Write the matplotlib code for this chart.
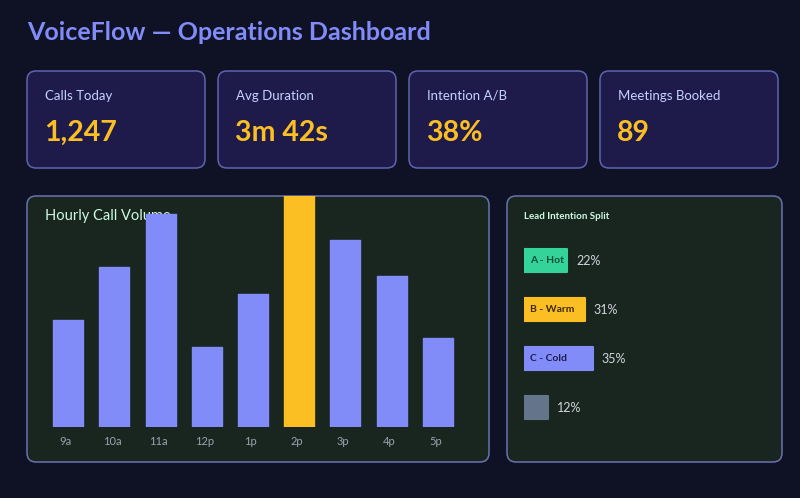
import numpy as np
import matplotlib
matplotlib.use("Agg")
import matplotlib.pyplot as plt
from matplotlib.patches import FancyBboxPatch

plt.rcParams['font.family'] = ['Lato', 'DejaVu Sans']

# data
kpi_labels = ["Calls Today", "Avg Duration", "Intention A/B", "Meetings Booked"]
kpi_values = ["1,247", "3m 42s", "38%", "89"]

hours = ["9a", "10a", "11a", "12p", "1p", "2p", "3p", "4p", "5p"]
calls = [80, 120, 160, 60, 100, 185, 140, 113, 67]
peak_hour = "2p"

lead_labels = ["A - Hot", "B - Warm", "C - Cold", ""]
lead_pct = [22, 31, 35, 12]
lead_colors = ["#34d399", "#fbbf24", "#818cf8", "#64748b"]
lead_text = ["#064e3b", "#3b2a05", "#1e1b4b", "#1e1b4b"]

BG = "#0f1124"
CARD = "#1e1b4b"
CARD_EDGE = "#5f64b0"
PANEL = "#18261f"
PANEL_EDGE = "#6a72b0"

W, H = 800, 498
fig = plt.figure(figsize=(W / 100, H / 100), dpi=100)
fig.patch.set_facecolor(BG)


def rect(x0, y0, x1, y1):
    # pixel box (top-left origin) -> figure fraction
    return [x0 / W, 1 - y1 / H, (x1 - x0) / W, (y1 - y0) / H]


def box(x0, y0, x1, y1, face, edge, r=9):
    p = FancyBboxPatch((x0 / W, 1 - y1 / H), (x1 - x0) / W, (y1 - y0) / H,
                       boxstyle=f"round,pad=0,rounding_size={r / W}",
                       transform=fig.transFigure, facecolor=face,
                       edgecolor=edge, linewidth=1.1, zorder=0,
                       mutation_aspect=W / H)
    fig.patches.append(p)


fig.text(27 / W, 1 - 32 / H, "VoiceFlow — Operations Dashboard",
         color="#818cf8", fontsize=18, fontweight="bold", va="center")

# kpi cards
card_x = [27, 218, 409, 600]
for cx, lab, val in zip(card_x, kpi_labels, kpi_values):
    box(cx, 71, cx + 178, 168, CARD, CARD_EDGE)
    fig.text((cx + 18) / W, 1 - 96 / H, lab, color="#c7d2fe",
             fontsize=9.5, va="center")
    fig.text((cx + 17) / W, 1 - 133 / H, val, color="#fbbf24",
             fontsize=20.5, fontweight="bold", va="center")

# panels
box(27, 196, 489, 462, PANEL, PANEL_EDGE)
box(507, 196, 782, 462, PANEL, PANEL_EDGE)

fig.text(45 / W, 1 - 216 / H, "Hourly Call Volume", color="#d1fae5",
         fontsize=10.5, va="center", zorder=1)

# hourly bars
ax = fig.add_axes(rect(45, 196, 461, 427))
ax.set_zorder(2)
ax.patch.set_alpha(0)
x = np.arange(len(hours))
cols = ["#fbbf24" if h == peak_hour else "#818cf8" for h in hours]
ax.bar(x, calls, width=0.65, color=cols, edgecolor=cols, linewidth=1,
       joinstyle="round")
ax.set_xlim(-0.5, len(hours) - 0.5)
ax.set_ylim(0, 231 / 1.333)
for xi, h in zip(x, hours):
    ax.text(xi - 0.05, -14 / 1.333, h, color="#9ca3af", fontsize=8,
            ha="center", va="center")
ax.axis("off")

# lead intention split
fig.text(524 / W, 1 - 216 / H, "Lead Intention Split", color="#d1fae5",
         fontsize=7, fontweight="bold", va="center")
ax2 = fig.add_axes(rect(524, 236, 782, 432))
ax2.set_zorder(2)
ax2.patch.set_alpha(0)
px_per_pct = 1.97
ax2.set_xlim(0, 258 / px_per_pct)
ax2.set_ylim(len(lead_pct) - 0.5, -0.5)
rows = np.arange(len(lead_pct))
ax2.barh(rows, lead_pct, height=0.45, color=lead_colors,
         edgecolor=lead_colors, linewidth=1.5, joinstyle="round")
for r, lab, pct, tc in zip(rows, lead_labels, lead_pct, lead_text):
    if lab:
        ax2.text(6.5 / px_per_pct, r, lab, color=tc, fontsize=7.5,
                 fontweight="bold", ha="left", va="center")
    ax2.text(pct + 4.5, r, f"{pct}%", color="#d1d5db", fontsize=9,
             ha="left", va="center")
ax2.axis("off")

fig.savefig("out.png", dpi=100, facecolor=BG)
